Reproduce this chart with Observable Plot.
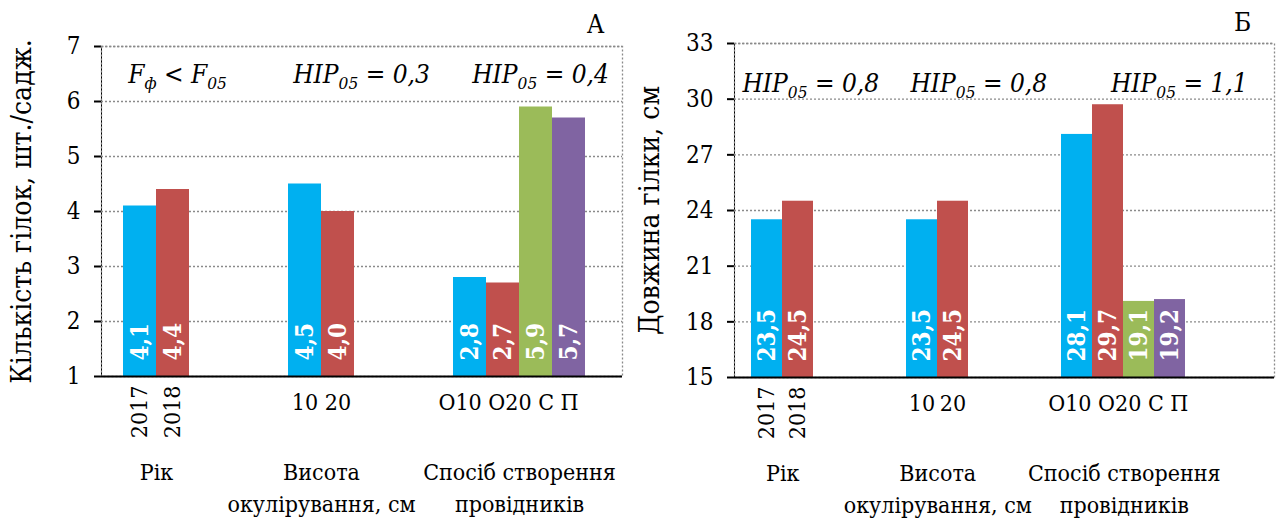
<!DOCTYPE html>
<html><head><meta charset="utf-8">
<script src="https://cdn.jsdelivr.net/npm/d3@7"></script>
<script src="https://cdn.jsdelivr.net/npm/@observablehq/plot@0.6"></script>
<style>
body{margin:0;background:#fff;}
#wrap{display:flex;width:1287px;height:522px;overflow:hidden;}
svg{overflow:visible;}
</style></head><body><div id="wrap"></div>
<script>
// ---- data ----
const groupNames = ["Рік", "Висота\nокулірування, см", "Спосіб створення\nпровідників"];
const groupCategories = [["2017", "2018"], ["10", "20"], ["О10", "О20", "С", "П"]];
const branchCount = [[4.1, 4.4], [4.5, 4.0], [2.8, 2.7, 5.9, 5.7]];
const branchLength = [[23.5, 24.5], [23.5, 24.5], [28.1, 29.7, 19.1, 19.2]];
const annotationsA = ["F_ф < F_05", "HIP_05 = 0,3", "HIP_05 = 0,4"];
const annotationsB = ["HIP_05 = 0,8", "HIP_05 = 0,8", "HIP_05 = 1,1"];
const ticksA = [1, 2, 3, 4, 5, 6, 7];
const ticksB = [15, 18, 21, 24, 27, 30, 33];
const titleA = "Кількість гілок, шт./садж.";
const titleB = "Довжина гілки, см";
const letterA = "А";
const letterB = "Б";
const palette = ["#00B0F0", "#C0504D", "#9BBB59", "#8064A2"];
const FAMILY = "DejaVu Serif Condensed";

// x domain with spacer slots between groups
const xDomain = [];
groupCategories.forEach((cats, gi) => {
  xDomain.push(...cats);
  if (gi < groupCategories.length - 1) for (let k = 0; k < 3; k++) xDomain.push(`gap${gi}_${k}`);
});

function rows(values) {
  const out = [];
  groupCategories.forEach((cats, gi) => cats.forEach((c, i) => out.push({cat: c, value: values[gi][i], group: gi, color: palette[i]})));
  return out;
}
const fmt = v => v.toFixed(1).replace(".", ",");

function subscriptify(svg, fs) {
  svg.querySelectorAll("text").forEach(t => {
    if (t.children.length || !t.textContent.includes("_")) return;
    const s = t.textContent;
    t.textContent = "";
    const re = /_(\S+)/g;
    let last = 0, m, shifted = false;
    const add = (str, sub) => {
      const ts = document.createElementNS("http://www.w3.org/2000/svg", "tspan");
      ts.textContent = str;
      if (sub) { ts.setAttribute("font-size", (fs * 0.66) + "px"); ts.setAttribute("dy", (fs * 0.24)); shifted = true; }
      else if (shifted) { ts.setAttribute("dy", -(fs * 0.24)); shifted = false; }
      t.appendChild(ts);
    };
    while ((m = re.exec(s))) {
      if (m.index > last) add(s.slice(last, m.index), false);
      add(m[1], true);
      last = re.lastIndex;
    }
    if (last < s.length) add(s.slice(last), false);
  });
}

function panel(cfg) {
  const {width, mL, mR, mT, mB, step, leftPad, values, ticks, title, titleDx, letter, letterDx, letterDy, annotations, annotShift, annotDy, catShift} = cfg;
  const height = 522;
  const W = width - mL - mR;
  const n = xDomain.length;
  const outer = W - n * step;
  const data = rows(values);
  const y0 = ticks[0], y1 = ticks[ticks.length - 1];
  const groupMarks = [];
  groupCategories.forEach((cats, gi) => {
    const center = (cats.length - 1) / 2 * step;
    groupMarks.push(Plot.text([groupNames[gi]], {x: () => cats[0], y: y0, dx: center, dy: 81, lineAnchor: "top", lineHeight: 1.38, fontSize: 23}));
    groupMarks.push(Plot.text([annotations[gi]], {x: () => cats[0], y: y1, dx: center + annotShift[gi], dy: annotDy, lineAnchor: "middle", fontSize: 26, fontStyle: "italic"}));
  });
  const years = groupCategories[0];
  const heights = groupCategories[1];
  const methods = groupCategories[2];
  const svg = Plot.plot({
    width, height,
    marginLeft: mL, marginRight: mR, marginTop: mT, marginBottom: mB,
    style: {fontSize: "24px", fontFamily: FAMILY, color: "#000", background: "transparent"},
    x: {type: "band", domain: xDomain, paddingInner: 0, paddingOuter: outer / step / 2, align: leftPad / outer, axis: null},
    y: {domain: [y0, y1], ticks, tickFormat: d => String(d), tickSize: 7, tickPadding: 14, label: null, line: true},
    color: {type: "identity"},
    marks: [
      Plot.frame({stroke: "#8a8a8a", strokeDasharray: "2,2", strokeWidth: 1.3}),
      Plot.ruleY(ticks.slice(1), {stroke: "#8a8a8a", strokeDasharray: "2,2", strokeWidth: 1.3}),
      Plot.barY(data, {x: "cat", y1: y0, y2: "value", fill: "color"}),
      Plot.ruleY([y0], {stroke: "#000", strokeWidth: 2}),
      Plot.text(data, {x: "cat", y: y0, text: d => fmt(d.value), rotate: -90, textAnchor: "start", lineAnchor: "middle", dy: -16, fill: "white", fontWeight: "bold", fontSize: 24}),
      Plot.text(years, {x: d => d, y: y0, rotate: -90, textAnchor: "end", lineAnchor: "middle", dy: 9, fontSize: 23}),
      Plot.text(heights, {x: d => d, y: y0, dy: 26, lineAnchor: "middle", fontSize: 23}),
      Plot.text([methods.join(" ")], {x: () => methods[0], y: y0, dx: (methods.length - 1) / 2 * step + catShift, dy: 26, lineAnchor: "middle", fontSize: 23}),
      ...groupMarks,
      Plot.text([title], {frameAnchor: "left", rotate: -90, dx: titleDx, textAnchor: "middle", lineAnchor: "middle", fontSize: 28}),
      Plot.text([letter], {frameAnchor: "top-right", dx: letterDx, dy: letterDy, textAnchor: "middle", lineAnchor: "middle", fontSize: 26})
    ]
  });
  subscriptify(svg, 26);
  svg.querySelectorAll("text").forEach(el => { el.setAttribute("font-family", FAMILY); el.setAttribute("font-stretch", "condensed"); });
  svg.querySelectorAll("path, line").forEach(p => {
    if (p.closest('[aria-label^="y-axis"]')) p.setAttribute("stroke-width", 2);
  });
  return svg;
}

const wrap = document.getElementById("wrap");
wrap.appendChild(panel({
  width: 640, mL: 101, mR: 18, mT: 46, mB: 146, step: 33, leftPad: 22,
  values: branchCount, ticks: ticksA, title: titleA, titleDx: -79,
  letter: letterA, letterDx: -27, letterDy: -22,
  annotations: annotationsA, annotShift: [21, 40, 21], annotDy: 28, catShift: -11
}));
wrap.appendChild(panel({
  width: 647, mL: 94, mR: 13, mT: 43, mB: 145, step: 31.5, leftPad: 16,
  values: branchLength, ticks: ticksB, title: titleB, titleDx: -84,
  letter: letterB, letterDx: -32, letterDy: -21,
  annotations: annotationsB, annotShift: [28, 41, 55], annotDy: 40, catShift: -6
}));
</script></body></html>
